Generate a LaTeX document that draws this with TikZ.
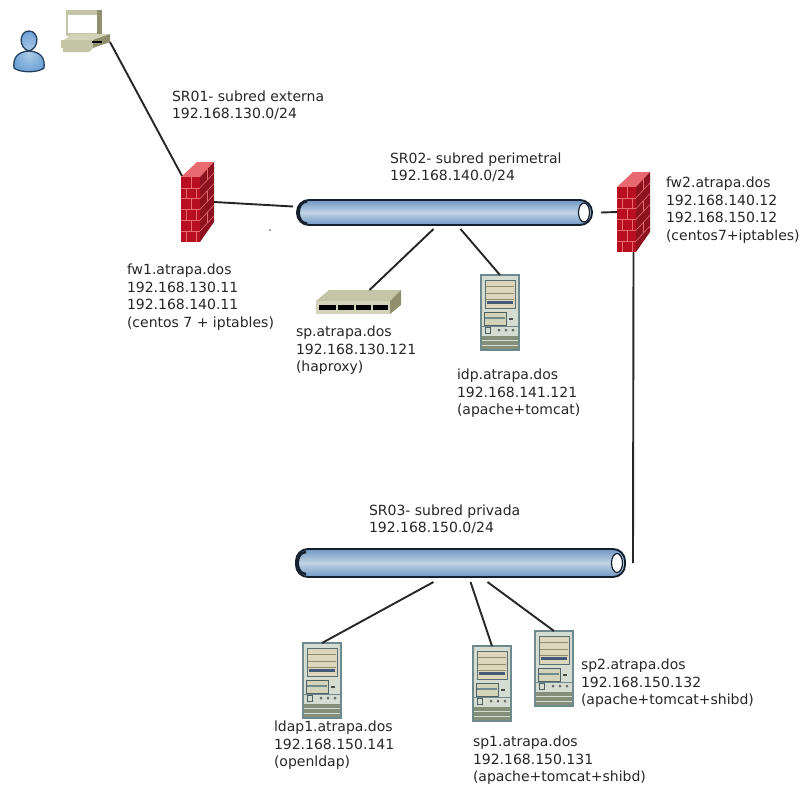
\documentclass[tikz,border=0pt]{standalone}
\usepackage{fontspec}
\setmainfont{DejaVu Sans}
\usetikzlibrary{positioning, shapes.geometric}

\definecolor{brickred}{HTML}{B80F20}
\definecolor{brickdark}{HTML}{8C1220}
\definecolor{brickpink}{HTML}{E86A70}
\definecolor{beigemid}{HTML}{C4C4A6}
\definecolor{beigedark}{HTML}{8F8F6E}
\definecolor{beigelight}{HTML}{D3D3BA}
\definecolor{servertan}{HTML}{DDD5BC}
\definecolor{serveredge}{HTML}{6F8A8E}
\definecolor{serverbody}{HTML}{D5DCD2}
\definecolor{pipeblue}{HTML}{6F97C4}
\definecolor{pipelight}{HTML}{C0D3E4}
\definecolor{pipeedge}{HTML}{14202E}
\definecolor{userblue}{HTML}{6FA3D6}
\definecolor{useredge}{HTML}{23405E}

\tikzset{
  firewall/.pic={
    \fill[brickpink] (0,15) -- (16,0) -- (33,0) -- (19,15) -- cycle;
    \fill[brickred] (0,15) rectangle (19,80);
    \fill[brickdark] (19,15) -- (33,0) -- (33,60) -- (19,80) -- cycle;
    \foreach \row in {1,...,5} {
      \draw[brickpink, line width=.6pt] (0,15+10.8*\row) -- (19,15+10.8*\row);
      \draw[brickpink, line width=.6pt] (19,15+10.8*\row) -- (33,10.8*\row);
    }
    \foreach \row in {0,2,4} {
      \draw[brickpink, line width=.6pt] (10,15+10.8*\row) -- (10,25.8+10.8*\row);
      \draw[brickpink, line width=.6pt] (26,7+10.8*\row) -- (26,18+10.8*\row);
    }
    \foreach \row in {1,3,5} {
      \draw[brickpink, line width=.6pt] (5,15+10.8*\row) -- (5,25.8+10.8*\row);
      \draw[brickpink, line width=.6pt] (15,15+10.8*\row) -- (15,25.8+10.8*\row);
    }
  },
  server/.pic={
    \fill[serverbody] (0,0) rectangle (38,75);
    \draw[serveredge, line width=1.6pt] (0,0) rectangle (38,75);
    \draw[serveredge!80!black, fill=servertan, line width=1pt] (4,5) rectangle (34,33);
    \foreach \row in {11,18,24} \draw[beigedark, line width=.8pt] (5,\row) -- (33,\row);
    \fill[pipeblue!60!black] (6,26) rectangle (32,29);
    \draw[serveredge!70!black, fill=beigelight, line width=.9pt] (3,37) rectangle (25,50);
    \fill[serveredge] (4,42) rectangle (24,44);
    \fill[black!70] (28,43) rectangle (32,45);
    \draw[serveredge, line width=.8pt] (0,51) -- (38,51);
    \draw[serveredge!70!black, line width=.9pt] (4,52) rectangle (9,58);
    \foreach \col in {18,25,32} \fill[black!60] (\col,55) circle (1.5);
    \fill[beigedark!70!serveredge] (1,61) rectangle (37,74);
    \foreach \row in {65,70} \draw[serverbody, line width=.7pt] (1,\row) -- (37,\row);
  },
  switchbox/.pic={
    \fill[beigemid] (0,11) -- (13,0) -- (85,0) -- (74,11) -- cycle;
    \fill[beigelight] (0,11) rectangle (74,24);
    \fill[beigedark] (74,11) -- (85,0) -- (85,15) -- (74,24) -- cycle;
    \foreach \a/\b in {3/20,22/38,40/55,57/72} \fill[black] (\a,15) rectangle (\b,20);
  },
  computer/.pic={
    \fill[beigemid] (5,0) rectangle (41,26);
    \fill[white] (7,5) rectangle (36,23);
    \fill[beigedark] (36,0) rectangle (41,25);
    \fill[beigelight] (11,24) -- (49,24) -- (32,32) -- (0,32) -- cycle;
    \fill[beigemid] (0,30) rectangle (32,38);
    \fill[beigedark] (32,30) -- (49,24) -- (49,32) -- (32,38) -- cycle;
    \fill[black] (31,31) rectangle (41,33);
    \fill[beigemid] (2,38) -- (32,38) -- (28,42) -- (2,42) -- cycle;
  },
  person/.pic={
    \draw[useredge, line width=1.3pt, inner color=userblue!55!white, outer color=userblue]
      (15,20) .. controls (4,17) and (5,0) .. (15,0)
      .. controls (25,0) and (26,17) .. (15,20)
      .. controls (28,21) and (31,28) .. (30,37)
      .. controls (24,42) and (6,42) .. (0,37)
      .. controls (-1,28) and (2,21) .. (15,20) -- cycle;
  },
}

\begin{document}
\begin{tikzpicture}[x=1pt, y=-1pt,
  iconbox/.style={anchor=north west, inner sep=0pt, outer sep=0pt},
  firewallbox/.style={iconbox, minimum width=33pt, minimum height=80pt},
  serverbox/.style={iconbox, minimum width=38pt, minimum height=75pt},
  cablebox/.style={iconbox, draw=pipeedge, line width=1.9pt, rounded corners=12pt, top color=pipeblue, bottom color=pipeblue, middle color=pipelight},
  netlabel/.style={inner sep=0pt, outer sep=0pt, align=left, text=black!85, font=\fontsize{14}{17.5}\selectfont},
  link/.style={draw=black!85, line width=1.9pt}]

  \useasboundingbox (0,0) rectangle (801,785);

  % Nodes
  \node (user) [iconbox, minimum width=30pt, minimum height=41pt] at (14,31) {};
  \node (pc) [iconbox, minimum width=49pt, minimum height=42pt] at (61,10) {};
  \node (fw1) [firewallbox] at (181,162) {};
  \node (fw2) [firewallbox] at (617,172) {};
  \node (cable1) [cablebox, minimum width=295pt, minimum height=25pt] at (297,200) {};
  \node (cable2) [cablebox, minimum width=329pt, minimum height=28pt] at (296,549) {};
  \node (sp) [iconbox, minimum width=85pt, minimum height=24pt] at (316,290) {};
  \node (idp) [serverbox] at (481,275) {};
  \node (ldap1) [serverbox] at (303,643) {};
  \node (sp1) [serverbox] at (473,646) {};
  \node (sp2) [serverbox] at (535,631) {};

  % Icons
  \pic at (user.north west) {person};
  \pic at (pc.north west) {computer};
  \pic at (sp.north west) {switchbox};
  \foreach \wall in {fw1,fw2} \pic at (\wall.north west) {firewall};
  \foreach \rack in {idp,ldap1,sp1,sp2} \pic at (\rack.north west) {server};
  \foreach \cable in {cable1,cable2} {
    \node (\cable end) [ellipse, fill=white, draw=pipeedge, line width=1.2pt, inner sep=0pt, minimum width=11pt, minimum height=19pt] at ([xshift=-8pt]\cable.east) {};
    \draw[pipeedge, line width=2.4pt] ([xshift=10pt,yshift=11pt]\cable.west) .. controls ([xshift=-1pt,yshift=11pt]\cable.west) and ([xshift=-1pt,yshift=-11pt]\cable.west) .. ([xshift=10pt,yshift=-11pt]\cable.west);
  }
  \fill[black!60] (270,230) circle (1);

  % Labels
  \node (sr01) [netlabel, above right=42pt and -9pt of fw1.north west] {SR01- subred externa\\192.168.130.0/24};
  \node (sr02) [netlabel, above right=18pt and 93pt of cable1.north west] {SR02- subred perimetral\\192.168.140.0/24};
  \node (sr03) [netlabel, above right=15pt and 73pt of cable2.north west] {SR03- subred privada\\192.168.150.0/24};
  \node (fw1text) [netlabel, below right=22pt and -54pt of fw1.south west] {fw1.atrapa.dos\\192.168.130.11\\192.168.140.11\\(centos 7 + iptables)};
  \node (fw2text) [netlabel, below right=5pt and 16pt of fw2.north east] {fw2.atrapa.dos\\192.168.140.12\\192.168.150.12\\(centos7+iptables)};
  \node (sptext) [netlabel, below right=12pt and -20pt of sp.south west] {sp.atrapa.dos\\192.168.130.121\\(haproxy)};
  \node (idptext) [netlabel, below right=19pt and -24pt of idp.south west] {idp.atrapa.dos\\192.168.141.121\\(apache+tomcat)};
  \node (ldap1text) [netlabel, below right=3pt and -29pt of ldap1.south west] {ldap1.atrapa.dos\\192.168.150.141\\(openldap)};
  \node (sp1text) [netlabel, below right=15pt and 0pt of sp1.south west] {sp1.atrapa.dos\\192.168.150.131\\(apache+tomcat+shibd)};
  \node (sp2text) [netlabel, below right=28pt and 8pt of sp2.north east] {sp2.atrapa.dos\\192.168.150.132\\(apache+tomcat+shibd)};

  % Arrows
  \draw[link] ([yshift=-11pt]pc.east) -- ([xshift=1pt,yshift=-14pt]fw1.north west);
  \draw[link] (fw1.east) -- ([xshift=-4pt,yshift=6pt]cable1.west);
  \draw[link] ([xshift=9pt]cable1.east) -- (fw2.west);
  \draw[link] (fw2.south) -- ([xshift=8pt]cable2.east);
  \draw[link] ([xshift=-11pt,yshift=-4pt]cable1.south) -- ([xshift=11pt]sp.north);
  \draw[link] ([xshift=16pt,yshift=-4pt]cable1.south) -- (idp.north);
  \draw[link] ([xshift=-27pt,yshift=-5pt]cable2.south) -- (ldap1.north);
  \draw[link] ([xshift=10pt,yshift=-5pt]cable2.south) -- (sp1.north);
  \draw[link] ([xshift=27pt,yshift=-5pt]cable2.south) -- (sp2.north);

\end{tikzpicture}
\end{document}
